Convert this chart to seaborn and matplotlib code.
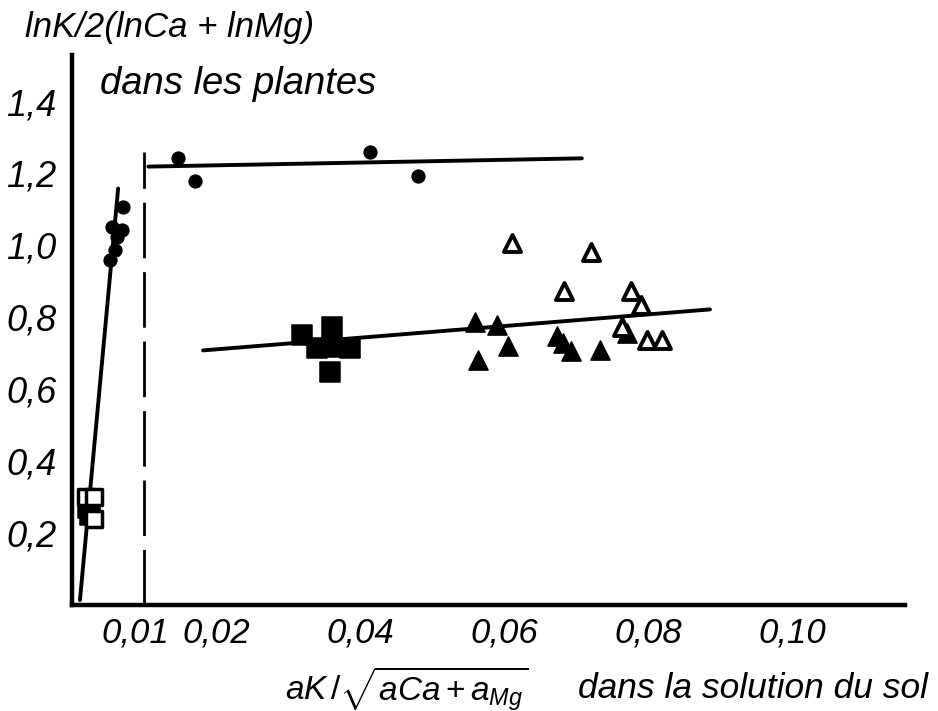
import matplotlib
matplotlib.use("Agg")
import matplotlib.pyplot as plt
import matplotlib.transforms as mtransforms
import seaborn as sns

sns.set_theme(style="white")
plt.rcParams['font.family'] = ['Liberation Sans', 'DejaVu Sans']
plt.rcParams['mathtext.fontset'] = 'custom'
plt.rcParams['mathtext.rm'] = 'Liberation Sans'
plt.rcParams['mathtext.it'] = 'Liberation Sans:italic'

# ---- data ----
circ_x = [0.0147, 0.0171, 0.0414, 0.0481, 0.0071, 0.0056, 0.0069, 0.0063, 0.0060, 0.0053]
circ_y = [1.244, 1.178, 1.261, 1.194, 1.106, 1.050, 1.042, 1.022, 0.986, 0.958]

sq_open_x = [0.0019, 0.0031, 0.0031]
sq_open_y = [0.300, 0.300, 0.240]
sq_fill_x = [0.0022, 0.0025, 0.0319, 0.0361, 0.0340, 0.0361, 0.0386, 0.0358]
sq_fill_y = [0.270, 0.250, 0.750, 0.772, 0.714, 0.717, 0.714, 0.647]

tri_fill_x = [0.0560, 0.0590, 0.0564, 0.0606, 0.0674, 0.0682, 0.0693, 0.0733, 0.0771]
tri_fill_y = [0.786, 0.778, 0.681, 0.719, 0.747, 0.728, 0.706, 0.708, 0.756]
tri_open_x = [0.0611, 0.0721, 0.0683, 0.0776, 0.0790, 0.0764, 0.0799, 0.0819]
tri_open_y = [1.006, 0.981, 0.872, 0.872, 0.833, 0.772, 0.736, 0.736]

line_top_x = [0.0106, 0.0708]
line_top_y = [1.219, 1.242]
line_low_x = [0.0182, 0.0886]
line_low_y = [0.708, 0.822]
line_steep_x = [0.0011, 0.0064]
line_steep_y = [0.014, 1.158]
vline_x = 0.01
vline_top = 1.26

xticks = [0.01, 0.02, 0.04, 0.06, 0.08, 0.10]
xtick_labels = ["0,01", "0,02", "0,04", "0,06", "0,08", "0,10"]
yticks = [0.2, 0.4, 0.6, 0.8, 1.0, 1.2, 1.4]
ytick_labels = ["0,2", "0,4", "0,6", "0,8", "1,0", "1,2", "1,4"]

fig = plt.figure(figsize=(9.38, 7.11), dpi=100)
ax = fig.add_axes([0.0768, 0.149, 0.8882, 0.774])

# lines
for lx, ly in [(line_top_x, line_top_y), (line_low_x, line_low_y), (line_steep_x, line_steep_y)]:
    sns.lineplot(x=lx, y=ly, ax=ax, color="black", linewidth=2.8, estimator=None, sort=False)
ax.plot([vline_x, vline_x], [0, vline_top], color="black", linewidth=2.0,
        linestyle=(0, (20, 5)))

# markers
sns.scatterplot(x=circ_x, y=circ_y, ax=ax, marker="o", s=90, color="black",
                edgecolor="black", zorder=5)
sns.scatterplot(x=sq_fill_x, y=sq_fill_y, ax=ax, marker="s", s=190, color="black",
                edgecolor="black", zorder=5)
sns.scatterplot(x=sq_open_x, y=sq_open_y, ax=ax, marker="s", s=120, facecolor="white",
                edgecolor="black", linewidth=2.5, zorder=6)
sns.scatterplot(x=tri_fill_x, y=tri_fill_y, ax=ax, marker="^", s=190, color="black",
                edgecolor="black", zorder=5)
sns.scatterplot(x=tri_open_x, y=tri_open_y, ax=ax, marker="^", s=150, facecolor="white",
                edgecolor="black", linewidth=2.8, zorder=6)

ax.set_xlim(0, 0.1157)
ax.set_ylim(0, 1.53)
ax.set_xticks(xticks)
ax.set_xticklabels(xtick_labels)
ax.set_yticks(yticks)
ax.set_yticklabels(ytick_labels)
for lab in ax.get_xticklabels():
    lab.set_fontsize(25)
    lab.set_style("italic")
for lab in ax.get_yticklabels():
    lab.set_fontsize(26)
    lab.set_style("italic")
ax.tick_params(axis="both", direction="in", length=3, width=2, color="black",
               pad=8, labelcolor="black")
ax.tick_params(axis="y", pad=11)
# nudge the crowded "0,01" label slightly left, as in the original
shift = mtransforms.ScaledTranslation(-6 / 72, 0, fig.dpi_scale_trans)
first = ax.get_xticklabels()[0]
first.set_transform(first.get_transform() + shift)
for side in ["top", "right"]:
    ax.spines[side].set_visible(False)
for side in ["left", "bottom"]:
    ax.spines[side].set_color("black")
    ax.spines[side].set_linewidth(3.2)
ax.set_xlabel("")
ax.set_ylabel("")

fig.text(0.027, 0.962, "lnK/2(lnCa + lnMg)", fontsize=25, style="italic",
         ha="left", va="center", color="black")
fig.text(0.107, 0.882, "dans les plantes", fontsize=27.5, style="italic",
         ha="left", va="center", color="black")
fig.text(0.304, 0.032, r"$\mathit{aK}\,/\sqrt{\mathit{aCa}+\mathit{a}_{\mathit{Mg}}}$",
         fontsize=24, ha="left", va="center", color="black")
fig.text(0.616, 0.032, "dans la solution du sol", fontsize=25.5, style="italic",
         ha="left", va="center", color="black")

fig.savefig("out.png", dpi=100, facecolor="white")
